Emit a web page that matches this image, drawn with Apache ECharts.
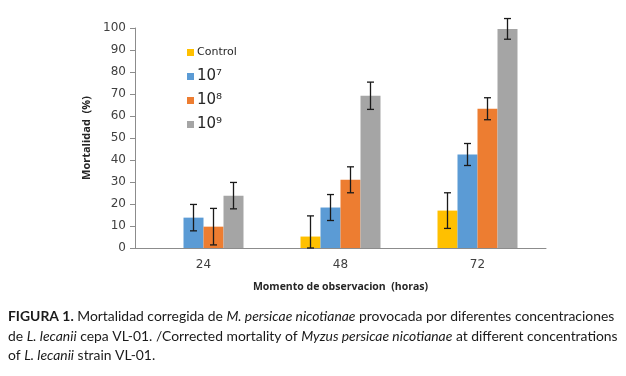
<!DOCTYPE html>
<html>
<head>
<meta charset="utf-8">
<script src="https://cdn.jsdelivr.net/npm/echarts@6/dist/echarts.min.js"></script>
<style>
  html, body { margin: 0; padding: 0; background: #fff; }
  #main { width: 626px; height: 376px; }
</style>
</head>
<body>
<div id="main"></div>
<script>
// hours of observation
const categories = ['24', '48', '72'];
const seriesNames = ['Control', '10\u2077', '10\u2078', '10\u2079'];
const colors = ['#FFC000', '#5B9BD5', '#ED7D31', '#A5A5A5'];

// mortality (%) per series, '-' = no bar
const controlVals = ['-', 5.2, 17];
const e7Vals = [13.8, 18.4, 42.5];
const e8Vals = [9.7, 31, 63.3];
const e9Vals = [23.8, 69.2, 99.6];

// half length of the error bars
const controlErr = [null, 9.4, 8.1];
const e7Err = [6, 5.9, 5];
const e8Err = [8.3, 5.9, 5];
const e9Err = [6, 6.2, 4.7];

const yTicks = [0, 10, 20, 30, 40, 50, 60, 70, 80, 90, 100];

const values = [controlVals, e7Vals, e8Vals, e9Vals];
const errors = [controlErr, e7Err, e8Err, e9Err];
const barW = 20;
const offsets = [-30, -10, 10, 30];

let chart = echarts.init(document.getElementById('main'));

let series = [];
for (let s = 0; s < 4; s++) {
    series.push({
        name: seriesNames[s],
        type: 'bar',
        data: values[s],
        barWidth: barW,
        barGap: '0%',
        itemStyle: { color: colors[s] }
    });
}

// error bars, one custom series per bar series
for (let s = 0; s < 4; s++) {
    let errData = [];
    for (let i = 0; i < categories.length; i++) {
        if (errors[s][i] == null) continue;
        let v = values[s][i];
        errData.push([i, Math.max(v - errors[s][i], 0), v + errors[s][i]]);
    }
    let off = offsets[s];
    series.push({
        type: 'custom',
        z: 10,
        silent: true,
        data: errData,
        encode: { x: 0, y: [1, 2] },
        renderItem: function (params, api) {
            let lo = api.coord([api.value(0), api.value(1)]);
            let hi = api.coord([api.value(0), api.value(2)]);
            let x = lo[0] + off;
            let cap = 3.5;
            let st = { stroke: '#1a1a1a', lineWidth: 1.3 };
            return {
                type: 'group',
                children: [
                    { type: 'line', shape: { x1: x, y1: hi[1], x2: x, y2: lo[1] }, style: st },
                    { type: 'line', shape: { x1: x - cap, y1: hi[1], x2: x + cap, y2: hi[1] }, style: st },
                    { type: 'line', shape: { x1: x - cap, y1: lo[1], x2: x + cap, y2: lo[1] }, style: st }
                ]
            };
        }
    });
}

const legendTops = [42, 64, 88, 112];
let legends = [];
for (let s = 0; s < 4; s++) {
    legends.push({
        left: 182,
        top: legendTops[s],
        orient: 'vertical',
        icon: 'rect',
        itemWidth: 7,
        itemHeight: 7,
        itemGap: 4,
        selectedMode: false,
        data: [{ name: seriesNames[s] }],
        textStyle: {
            fontFamily: 'DejaVu Sans',
            fontSize: s == 0 ? 11 : 15,
            color: '#262626',
            padding: [0, 0, 0, -2]
        }
    });
}

let option = {
    animation: false,
    backgroundColor: '#fff',
    grid: { left: 135, right: 80, top: 28, bottom: 128 },
    legend: legends,
    xAxis: {
        type: 'category',
        data: categories,
        name: 'Momento de observacion  (horas)',
        nameLocation: 'middle',
        nameGap: 34,
        nameTextStyle: { fontFamily: 'Open Sans', fontWeight: 'bold', fontSize: 10.5, color: '#262626' },
        axisLine: { lineStyle: { color: '#8c8c8c', width: 1 } },
        axisTick: { show: false },
        axisLabel: { fontFamily: 'DejaVu Sans', fontSize: 12, color: '#404040', margin: 11 }
    },
    yAxis: {
        type: 'value',
        min: 0,
        max: 100,
        interval: 10,
        name: 'Mortalidad  (%)',
        nameLocation: 'middle',
        nameGap: 31,
        nameTextStyle: { fontFamily: 'Open Sans', fontWeight: 'bold', fontSize: 11, color: '#262626' },
        axisLine: { show: true, lineStyle: { color: '#8c8c8c', width: 1 } },
        axisTick: { show: true, length: 5, lineStyle: { color: '#8c8c8c' } },
        splitLine: { show: false },
        axisLabel: {
            fontFamily: 'DejaVu Sans', fontSize: 12, color: '#404040', margin: 9,
            formatter: function (v) { return yTicks.indexOf(v) >= 0 ? String(v) : ''; }
        }
    },
    graphic: [{
        type: 'text',
        left: 8,
        top: 307,
        style: {
            text: '{b|FIGURA 1.} Mortalidad corregida de {i|M. persicae nicotianae} provocada por diferentes concentraciones\n' +
                'de {i|L. lecanii} cepa VL-01. /Corrected mortality of {i|Myzus persicae nicotianae} at different concentrations\n' +
                'of {i|L. lecanii} strain VL-01.',
            font: '13.9px Lato',
            fill: '#1a1a1a',
            lineHeight: 19.5,
            rich: {
                b: { fontFamily: 'Lato', fontSize: 13.9, fontWeight: 'bold', fill: '#1a1a1a', lineHeight: 19.5 },
                i: { fontFamily: 'Lato', fontSize: 13.9, fontStyle: 'italic', fill: '#1a1a1a', lineHeight: 19.5 }
            }
        }
    }],
    series: series
};

chart.setOption(option);
</script>
</body>
</html>
